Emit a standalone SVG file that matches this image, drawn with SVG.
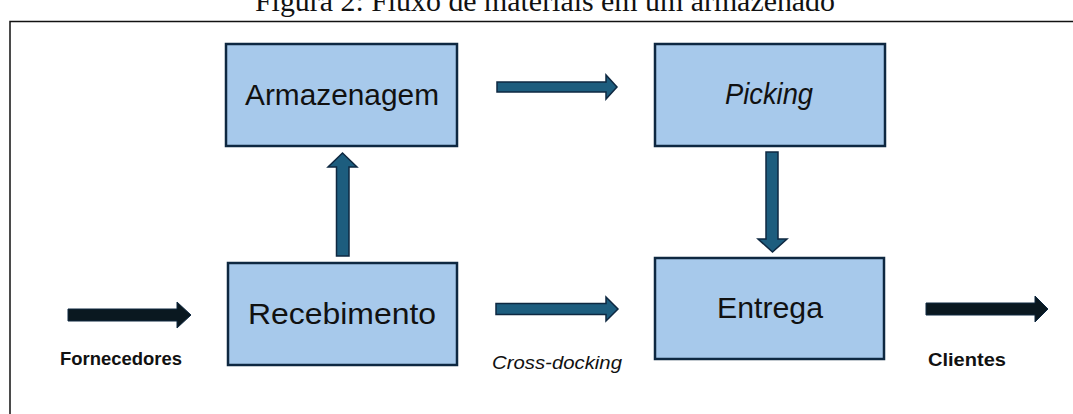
<svg xmlns="http://www.w3.org/2000/svg" width="1073" height="414" viewBox="0 0 1073 414">
  <style>
    .box { fill: #a7c9eb; stroke: #0e2841; stroke-width: 2.5; }
    .lbl { font-family: "Liberation Sans", Arial, sans-serif; font-size: 29px; fill: #111; text-anchor: middle; }
    .cap { font-family: "Liberation Sans", Arial, sans-serif; font-size: 18px; font-weight: bold; fill: #111; text-anchor: middle; }
    .note { font-family: "Liberation Sans", Arial, sans-serif; font-size: 19px; font-style: italic; fill: #111; text-anchor: middle; }
    .flow { fill: #1d5d7e; stroke: #0e2841; stroke-width: 1.5; stroke-linejoin: miter; }
    .ext { fill: #0a1820; stroke: #0e2841; stroke-width: 1; }
    .title { font-family: "Liberation Serif", "Times New Roman", serif; font-size: 30px; fill: #111; text-anchor: middle; }
  </style>

  <rect width="1073" height="414" fill="#ffffff"/>

  <!-- caption and frame -->
  <text class="title" x="545" y="11" textLength="580" lengthAdjust="spacingAndGlyphs">Figura 2: Fluxo de materiais em um armazenado</text>
  <path d="M10 414 V21.5 H1073" fill="none" stroke="#111" stroke-width="1.5"/>

  <g id="armazenagem">
    <rect class="box" x="226" y="44" width="231" height="102"/>
    <text class="lbl" x="342" y="105" textLength="194" lengthAdjust="spacingAndGlyphs">Armazenagem</text>
  </g>

  <g id="picking">
    <rect class="box" x="655" y="44" width="230" height="102"/>
    <text class="lbl" x="769" y="104" font-style="italic" textLength="88" lengthAdjust="spacingAndGlyphs">Picking</text>
  </g>

  <g id="recebimento">
    <rect class="box" x="228" y="263" width="229" height="102"/>
    <text class="lbl" x="342" y="324" textLength="188" lengthAdjust="spacingAndGlyphs">Recebimento</text>
  </g>

  <g id="entrega">
    <rect class="box" x="655" y="258" width="229" height="101"/>
    <text class="lbl" x="770" y="318" textLength="106" lengthAdjust="spacingAndGlyphs">Entrega</text>
  </g>

  <g id="fornecedores">
    <text class="cap" x="121" y="365" textLength="122" lengthAdjust="spacingAndGlyphs">Fornecedores</text>
  </g>

  <g id="clientes">
    <text class="cap" x="967" y="366" textLength="78" lengthAdjust="spacingAndGlyphs">Clientes</text>
  </g>

  <g id="connectors">
    <!-- Fornecedores -> Recebimento -->
    <path class="ext" d="M68 309 H177 V302 L191 315 L177 328 V321 H68 Z"/>
    <!-- Recebimento -> Armazenagem -->
    <path class="flow" d="M336.5 256 V167 H328 L342.5 153 L357 167 H349 V256 Z"/>
    <!-- Armazenagem -> Picking -->
    <path class="flow" d="M497 82 V92 H606 V99 L617 87 L606 75 V82 Z"/>
    <!-- Picking -> Entrega -->
    <path class="flow" d="M766 152 H778 V239 H787 L772.5 252 L758 239 H766 Z"/>
    <!-- Recebimento -> Entrega (cross-docking) -->
    <path class="flow" d="M496 303.5 H606 V297 L618 309 L606 321 V314.5 H496 Z"/>
    <text class="note" x="557" y="369" textLength="130" lengthAdjust="spacingAndGlyphs">Cross-docking</text>
    <!-- Entrega -> Clientes -->
    <path class="ext" d="M926 303 H1035 V296 L1048 309 L1035 322 V315 H926 Z"/>
  </g>
</svg>
